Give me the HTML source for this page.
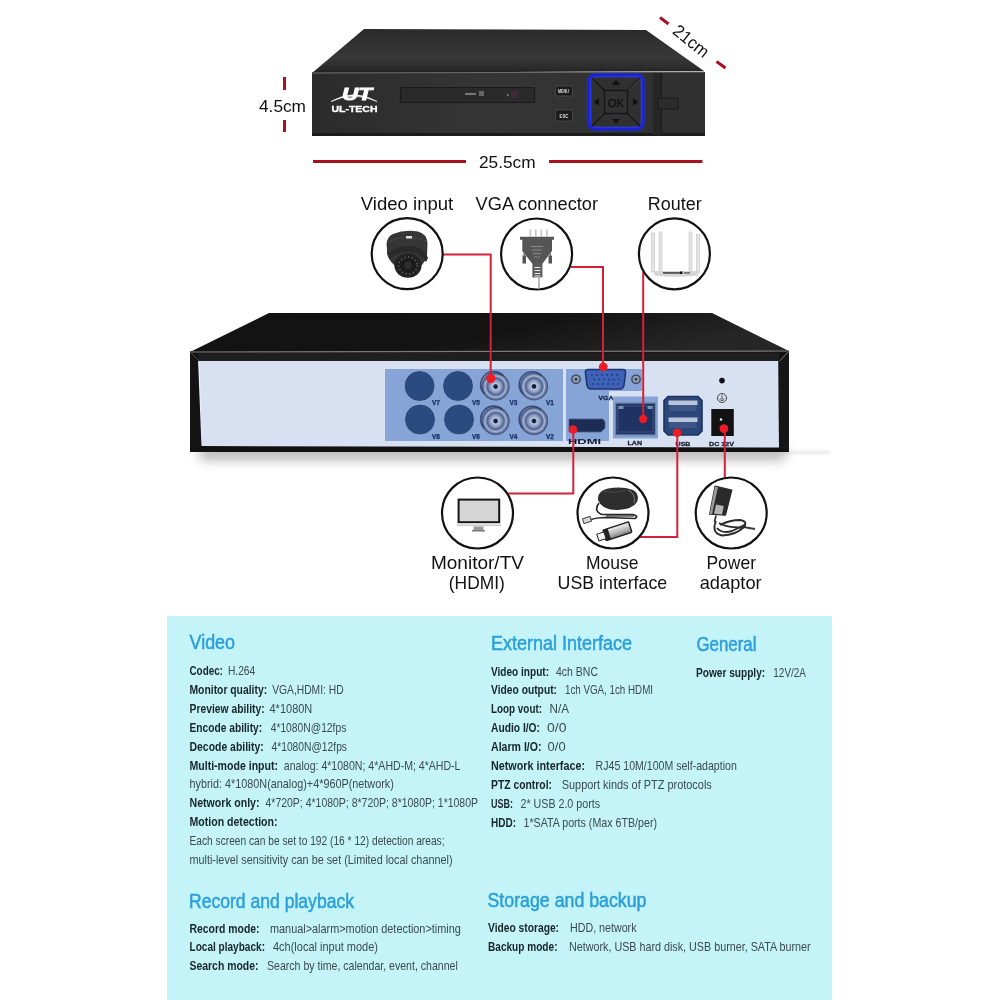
<!DOCTYPE html>
<html><head><meta charset="utf-8"><title>DVR</title>
<style>
html,body{margin:0;padding:0;background:#fff;}
body{width:1000px;height:1000px;overflow:hidden;}
svg{display:block;font-family:"Liberation Sans",sans-serif;will-change:transform;}
</style></head><body>
<svg width="1000" height="1000" viewBox="0 0 1000 1000">
<rect x="0" y="0" width="1000" height="1000" fill="#fff"/>
<rect x="167" y="616" width="665" height="384" fill="#c4f3f8"/>

<defs>
  <filter id="blur6" x="-20%" y="-200%" width="140%" height="500%"><feGaussianBlur stdDeviation="6"/></filter>
  <filter id="blur2" x="-50%" y="-200%" width="200%" height="500%"><feGaussianBlur stdDeviation="1.5"/></filter>
  <filter id="blur1" x="-50%" y="-50%" width="200%" height="200%"><feGaussianBlur stdDeviation="0.6"/></filter>
  <linearGradient id="ftop" x1="0" y1="0" x2="0" y2="1">
    <stop offset="0" stop-color="#2a2a2a"/><stop offset="0.65" stop-color="#383838"/><stop offset="0.88" stop-color="#2c2c2c"/><stop offset="1" stop-color="#1f1f1f"/>
  </linearGradient>
  <linearGradient id="ffront" x1="0" y1="0" x2="1" y2="0">
    <stop offset="0" stop-color="#2b2b2b"/><stop offset="0.45" stop-color="#353535"/><stop offset="1" stop-color="#2f2f2f"/>
  </linearGradient>
  <linearGradient id="btop" x1="0" y1="0" x2="1" y2="0.3">
    <stop offset="0" stop-color="#121212"/><stop offset="0.6" stop-color="#131313"/><stop offset="1" stop-color="#262626"/>
  </linearGradient>
  <linearGradient id="bshadow" x1="0" y1="0" x2="0" y2="1">
    <stop offset="0" stop-color="#9a9a9a"/><stop offset="0.35" stop-color="#d8d8d8"/><stop offset="1" stop-color="#ffffff"/>
  </linearGradient>
  <radialGradient id="bnc" cx="0.5" cy="0.5" r="0.5">
    <stop offset="0" stop-color="#17203a"/><stop offset="0.13" stop-color="#17203a"/>
    <stop offset="0.2" stop-color="#b9c6e0"/><stop offset="0.42" stop-color="#8a9cc0"/>
    <stop offset="0.6" stop-color="#4f6290"/><stop offset="0.75" stop-color="#a6b6d6"/><stop offset="0.9" stop-color="#5d6f98"/><stop offset="1" stop-color="#34456e"/>
  </radialGradient>
</defs>

<!-- ===== front DVR ===== -->
<polygon points="364,29 646,30 704,71 312,73" fill="url(#ftop)"/>
<rect x="312" y="72" width="393" height="63" fill="url(#ffront)"/>
<line x1="312" y1="73" x2="704" y2="72" stroke="#6d6d6d" stroke-width="1.2"/>
<rect x="312" y="133" width="393" height="3" fill="#1c1c1c"/>
<!-- logo -->
<text x="342" y="99.6" font-size="17" font-weight="bold" font-style="italic" fill="#fff" stroke="#fff" stroke-width="0.9" textLength="30" lengthAdjust="spacingAndGlyphs">UT</text>
<path d="M331,101.5 Q354,88 377,101.5 Q354,91 331,101.5 Z" fill="#fff" stroke="#fff" stroke-width="0.6"/>
<text x="331.5" y="112.3" font-size="8.6" font-weight="bold" fill="#fff" stroke="#fff" stroke-width="0.3" textLength="46" lengthAdjust="spacingAndGlyphs">UL-TECH</text>
<!-- display slot -->
<rect x="400.5" y="87.5" width="134" height="15" fill="#2a2a2a" stroke="#1a1a1a" stroke-width="1.2" rx="1"/>
<rect x="465" y="93" width="11" height="2" fill="#777"/>
<rect x="479" y="91" width="5" height="5" fill="#666"/>
<rect x="507" y="94" width="1.5" height="2" fill="#888"/>
<rect x="511" y="91" width="7" height="7" fill="#3d2a3a"/>
<!-- buttons -->
<rect x="555.5" y="86" width="17" height="10" fill="#1d1d1d" stroke="#4d4d4d" stroke-width="0.8"/>
<text x="558" y="93" font-size="4.5" font-weight="bold" fill="#ddd" textLength="11" lengthAdjust="spacingAndGlyphs">MENU</text>
<rect x="555.5" y="110" width="17" height="11" fill="#1d1d1d" stroke="#4d4d4d" stroke-width="0.8"/>
<text x="559.5" y="117.5" font-size="4.5" font-weight="bold" fill="#ddd" textLength="9" lengthAdjust="spacingAndGlyphs">ESC</text>
<!-- d-pad -->
<rect x="589.2" y="75.2" width="53.6" height="53.6" rx="6" fill="none" stroke="#2a4cff" stroke-width="3" opacity="0.6" filter="url(#blur2)"/>
<rect x="589.2" y="75.2" width="53.6" height="53.6" rx="6" fill="#303030" stroke="#1b24d4" stroke-width="3.6"/>
<rect x="590.8" y="76.8" width="50.4" height="50.4" rx="5" fill="none" stroke="#3346f0" stroke-width="0.8"/>
<line x1="592" y1="78" x2="640" y2="126" stroke="#161616" stroke-width="1.2"/>
<line x1="640" y1="78" x2="592" y2="126" stroke="#161616" stroke-width="1.2"/>
<line x1="627" y1="92" x2="640" y2="79" stroke="#5a5a5a" stroke-width="0.6"/>
<rect x="604.5" y="90.5" width="23" height="23" fill="#323232" stroke="#151515" stroke-width="1.4"/>
<text x="608" y="106.5" font-size="11" fill="#111" stroke="#111" stroke-width="0.4" textLength="16" lengthAdjust="spacingAndGlyphs">OK</text>
<polygon points="616,80 612,85 620,85" fill="#111"/>
<polygon points="616,124 612,119 620,119" fill="#111"/>
<polygon points="594,102 599,98 599,106" fill="#111"/>
<polygon points="638,102 633,98 633,106" fill="#111"/>
<rect x="653" y="73" width="9" height="62" fill="#262626"/><line x1="661.5" y1="73" x2="661.5" y2="135" stroke="#1a1a1a" stroke-width="1"/>
<rect x="658" y="98" width="20" height="11" rx="1.5" fill="#2c2c2c" stroke="#1a1a1a" stroke-width="1.2"/>

<!-- dims -->
<g stroke="#a8121f" stroke-width="3">
  <line x1="284.5" y1="77" x2="284.5" y2="90"/>
  <line x1="284.5" y1="120" x2="284.5" y2="132"/>
  <line x1="313" y1="161.5" x2="466" y2="161.5"/>
  <line x1="549" y1="161.5" x2="702.5" y2="161.5"/>
  <line x1="660" y1="17.5" x2="668.5" y2="24"/>
  <line x1="716.5" y1="61.5" x2="725.5" y2="68"/>
</g>
<text x="0" y="0" font-size="17.4" fill="#111" textLength="41" lengthAdjust="spacingAndGlyphs" transform="translate(671.6,32.8) rotate(39)">21cm</text>

<!-- ===== back DVR ===== -->
<rect x="200" y="446" width="585" height="14" fill="#777" opacity="0.55" filter="url(#blur6)"/>
<rect x="775" y="451" width="55" height="3" fill="#aaa" opacity="0.3" filter="url(#blur2)"/>
<polygon points="269,313 712,313 789,351 190,352" fill="url(#btop)"/>
<rect x="190" y="351" width="599" height="101" fill="#111"/>
<rect x="199" y="352.5" width="580" height="8.5" fill="#1f1f1f"/>
<line x1="190" y1="352" x2="789" y2="351" stroke="#7a7a7a" stroke-width="1.2"/>
<polygon points="198,361 778.5,361 779,447.5 201.5,446 199,444" fill="#d8e1f1"/>
<line x1="199" y1="362" x2="201.5" y2="445" stroke="#eef2fa" stroke-width="0.9"/>
<polygon points="190,352 198,361 201.5,446 190,452" fill="#131313"/>
<polygon points="789,351 778.5,361 779,447.5 789,452" fill="#161616"/>
<line x1="788" y1="352" x2="779.5" y2="361" stroke="#8a8a8a" stroke-width="0.9"/>
<line x1="191" y1="352.5" x2="199" y2="361" stroke="#5a5a5a" stroke-width="0.8"/>

<!-- video panel -->
<rect x="385" y="369" width="178" height="72" fill="#86a5d6"/>
<g fill="#2a4a80" stroke="#a3bbe2" stroke-width="0.8">
  <circle cx="419.6" cy="386" r="15.5"/>
  <circle cx="458" cy="386" r="15.5"/>
  <circle cx="420" cy="419.5" r="15.5"/>
  <circle cx="459" cy="419.5" r="15.5"/>
</g>
<g fill="url(#bnc)">
  <circle cx="495.6" cy="386.6" r="14"/>
  <circle cx="534" cy="386.4" r="14"/>
  <circle cx="495.6" cy="421" r="14"/>
  <circle cx="534" cy="421" r="14"/>
</g>
<g stroke="#27365c" stroke-width="1.6" fill="none" opacity="0.8">
  <path d="M484.5,394 A12.5,12.5 0 0 1 503,375.5"/>
  <path d="M523,394 A12.5,12.5 0 0 1 541.5,375.5"/>
  <path d="M484.5,428.5 A12.5,12.5 0 0 1 503,410"/>
  <path d="M523,428.5 A12.5,12.5 0 0 1 541.5,410"/>
</g>
<g font-size="6.5" font-weight="bold" fill="#1a2f66" stroke="#1a2f66" stroke-width="0.25">
  <text x="432" y="405">V7</text><text x="472" y="405">V5</text><text x="509.5" y="405">V3</text><text x="546" y="405">V1</text>
  <text x="432" y="439">V8</text><text x="472" y="439">V6</text><text x="509.5" y="439">V4</text><text x="546" y="439">V2</text>
</g>
<!-- vga/hdmi panel -->
<path d="M566,369 H642 V391 H609 V441 H566 Z" fill="#86a5d6"/>
<path d="M588,369.5 H623 Q626,369.5 625.5,373 L624,385 Q623.5,389 620,389 H591 Q587.5,389 587,385 L585.5,373 Q585,369.5 588,369.5 Z" fill="#3d62b8" stroke="#1f3470" stroke-width="1.6"/>
<g fill="#1f3a80">
<circle cx="592" cy="375" r="0.9"/><circle cx="597" cy="375" r="0.9"/><circle cx="602" cy="375" r="0.9"/><circle cx="607" cy="375" r="0.9"/><circle cx="612" cy="375" r="0.9"/><circle cx="617" cy="375" r="0.9"/>
<circle cx="594" cy="379.5" r="0.9"/><circle cx="599" cy="379.5" r="0.9"/><circle cx="604" cy="379.5" r="0.9"/><circle cx="609" cy="379.5" r="0.9"/><circle cx="614" cy="379.5" r="0.9"/><circle cx="619" cy="379.5" r="0.9"/>
<circle cx="593" cy="384" r="0.9"/><circle cx="598" cy="384" r="0.9"/><circle cx="603" cy="384" r="0.9"/><circle cx="608" cy="384" r="0.9"/><circle cx="613" cy="384" r="0.9"/><circle cx="618" cy="384" r="0.9"/>
</g>
<circle cx="576" cy="379.3" r="4.2" fill="#8e9bb0" stroke="#3b465c" stroke-width="1.4"/><circle cx="576" cy="379.3" r="1.3" fill="#2a3448"/>
<circle cx="636" cy="379.3" r="4.2" fill="#8e9bb0" stroke="#3b465c" stroke-width="1.4"/><circle cx="636" cy="379.3" r="1.3" fill="#2a3448"/>
<text x="598.5" y="399.5" font-size="6" font-weight="bold" fill="#1a2550" stroke="#1a2550" stroke-width="0.3" textLength="15" lengthAdjust="spacingAndGlyphs">VGA</text>
<path d="M569,419 H603 L605,422 V428 L601,432 H569 Z" fill="#1e2d55" stroke="#4d5f88" stroke-width="0.8"/>
<text x="568" y="444" font-size="7.5" font-weight="bold" fill="#111a33" textLength="33" lengthAdjust="spacingAndGlyphs">HDMI</text>
<!-- lan -->
<rect x="613" y="396.5" width="45" height="42" fill="#86a5d6"/>
<rect x="615.5" y="403" width="40" height="32" fill="#1e3363" stroke="#7486a8" stroke-width="1.4"/>
<rect x="618" y="406" width="35" height="26" fill="none" stroke="#3d5589" stroke-width="1"/>
<rect x="618.5" y="406" width="5" height="3" fill="#7a94a8"/>
<rect x="647.5" y="406" width="5" height="3" fill="#7a94a8"/>
<text x="627.5" y="445" font-size="6" font-weight="bold" fill="#1d2235" stroke="#1d2235" stroke-width="0.3" textLength="14.5" lengthAdjust="spacingAndGlyphs">LAN</text>
<!-- usb -->
<path d="M668,396.5 H698 L702,400.5 V431 L698,435 H668 L664,431 V400.5 Z" fill="#2d4679" stroke="#1d3163" stroke-width="1.6"/>
<rect x="668.5" y="400.5" width="29" height="4.5" fill="#b6c3da"/>
<rect x="669.5" y="405" width="27" height="6" fill="#3c5688"/>
<rect x="668.5" y="417.5" width="29" height="4.5" fill="#b6c3da"/>
<rect x="669.5" y="422" width="27" height="6" fill="#3c5688"/>
<text x="675.5" y="445.8" font-size="6" font-weight="bold" fill="#1d2235" stroke="#1d2235" stroke-width="0.3" textLength="15" lengthAdjust="spacingAndGlyphs">USB</text>
<!-- dc -->
<circle cx="722" cy="380.6" r="2.8" fill="#111"/>
<circle cx="722" cy="398" r="4.5" fill="none" stroke="#444" stroke-width="1"/>
<path d="M722,394.5 V399 M719.5,399 H724.5 M720.5,400.5 H723.5" stroke="#444" stroke-width="0.8"/>
<rect x="711.3" y="409" width="22.5" height="27" fill="#121212"/>
<circle cx="721" cy="419.5" r="1.3" fill="#bfffbf"/>
<text x="709" y="446" font-size="6" font-weight="bold" fill="#1d2235" stroke="#1d2235" stroke-width="0.3" textLength="25" lengthAdjust="spacingAndGlyphs">DC 12V</text>

<!-- ===== red connector lines ===== -->
<g stroke="#d3223a" stroke-width="2" fill="none">
  <polyline points="443,254.6 490.7,254.6 490.7,379"/>
  <polyline points="571,267 603,267 603,367"/>
  <polyline points="643.2,272 643.2,419"/>
  <polyline points="573.3,430 573.3,493.4 508,493.4"/>
  <polyline points="677.3,433 677.3,537 640,537"/>
  <polyline points="724.8,429 724.8,477"/>
</g>
<g fill="#ee1c25">
  <circle cx="490.8" cy="378.6" r="4.6"/>
  <circle cx="603.3" cy="366.8" r="4.4"/>
  <circle cx="643.2" cy="419" r="4.2"/>
  <circle cx="573" cy="429.5" r="4.3"/>
  <circle cx="677.1" cy="432.8" r="4.3"/>
  <circle cx="723.9" cy="428.7" r="4.4"/>
</g>

<!-- ===== callout circles ===== -->
<g fill="#fff" stroke="#111" stroke-width="2.2">
  <circle cx="407.2" cy="253.7" r="35.5"/>
  <circle cx="536.6" cy="254" r="35.5"/>
  <circle cx="674.4" cy="253.8" r="35.5"/>
  <circle cx="477.5" cy="513" r="35.5"/>
  <circle cx="613" cy="513" r="35.5"/>
  <circle cx="731.2" cy="513" r="35.5"/>
</g>


<!-- camera -->
<g>
  <path d="M387,248 Q385,238 393,234 Q405,229 418,231.5 Q427,234 427.5,243 L427,256 Q424,266 414,270 L400,270 Q389,262 387,254 Z" fill="#363636"/>
  <path d="M388,242 Q405,233 427,241" stroke="#4a4a4a" stroke-width="0.8" fill="none"/>
  <path d="M388,253 Q397,245 412,246 Q424,248 428,258 L426,262 Q420,252 408,252 Q396,252 390,260 Z" fill="#2a2a2a"/>
  <ellipse cx="408" cy="265.5" rx="13.6" ry="12.2" fill="#222"/>
  <ellipse cx="408" cy="265.5" rx="9.2" ry="8.2" fill="#1a1a1a" stroke="#6a6a6a" stroke-width="1.4" stroke-dasharray="1.3,2.4"/>
  <circle cx="408" cy="265.5" r="4" fill="#2c2c2c"/>
  <rect x="406" y="236" width="6" height="2.5" fill="#e0e0e0"/>
</g>
<!-- vga plug -->
<g>
  <g fill="#c4c4c4"><rect x="529.5" y="229.5" width="1.6" height="7"/><rect x="535" y="229.5" width="1.6" height="7"/><rect x="540.5" y="229.5" width="1.6" height="7"/><rect x="546" y="229.5" width="1.6" height="7"/></g>
  <path d="M520,236.7 H554 V239.8 H552 V251 L542.4,263.7 H532.4 L522.3,251 V239.8 H520 Z" fill="#555"/>
  <rect x="522.5" y="255.5" width="3.5" height="8" fill="#555"/>
  <rect x="548.5" y="255.5" width="3.5" height="8" fill="#555"/>
  <rect x="523.5" y="252" width="1.5" height="4" fill="#777"/>
  <rect x="549.5" y="252" width="1.5" height="4" fill="#777"/>
  <rect x="532.4" y="263" width="10" height="14.4" fill="#585858"/>
  <g stroke="#8a8a8a" stroke-width="1"><line x1="531" y1="246.5" x2="543" y2="246.5"/><line x1="532" y1="250" x2="542" y2="250"/><line x1="533" y1="253.5" x2="541" y2="253.5"/><line x1="534" y1="257" x2="540" y2="257"/></g>
  <g stroke="#e6e6e6" stroke-width="1.1"><line x1="534.5" y1="267.5" x2="540.5" y2="267.5"/><line x1="534.5" y1="270.5" x2="540.5" y2="270.5"/><line x1="534.5" y1="273.5" x2="540.5" y2="273.5"/><line x1="534.5" y1="276" x2="540.5" y2="276"/></g>
  <line x1="539" y1="277.5" x2="539" y2="289" stroke="#aaa" stroke-width="1.6"/>
</g>
<!-- router -->
<g>
  <g fill="#e4e4e4" stroke="#c4c4c4" stroke-width="0.6">
  <rect x="651.5" y="233" width="3" height="39"/>
  <rect x="659" y="232" width="3" height="40"/>
  <rect x="689" y="232" width="3" height="40"/>
  <rect x="696.5" y="234.5" width="3" height="38"/>
  </g>
  <path d="M653,271 H699 L698,275.5 Q676,278 655,275.5 Z" fill="#d6d6d6"/>
  <rect x="663" y="272" width="18" height="1.8" fill="#555"/>
  <rect x="680" y="271.5" width="2.5" height="2.5" fill="#111"/>
  <rect x="684" y="272" width="6" height="1.8" fill="#777"/>
</g>
<!-- monitor -->
<g>
  <rect x="458.6" y="499.6" width="40.6" height="22.6" fill="#d6d6d6" stroke="#151515" stroke-width="2"/>
  <rect x="457" y="524.5" width="44" height="1.6" fill="#c9c9c9"/>
  <rect x="473.5" y="526.5" width="10" height="4" fill="#9a9a9a"/>
  <rect x="472" y="530" width="13" height="1.5" fill="#777"/>
</g>
<!-- mouse + usb -->
<g>
  <linearGradient id="usbg" x1="0" y1="0" x2="0" y2="1"><stop offset="0" stop-color="#f0f0f0"/><stop offset="0.6" stop-color="#b5b5b5"/><stop offset="1" stop-color="#777"/></linearGradient>
  <path d="M598,500 Q597,491 608,488.5 Q622,486 633,490 Q640,494 637,502 Q633,509 618,510 Q602,510.5 598,500 Z" fill="#2e2e2e"/>
  <path d="M628,490 Q636,494 634,503" stroke="#8a8a8a" stroke-width="0.9" fill="none"/>
  <path d="M603,491 Q615,494 626,490" stroke="#555" stroke-width="0.7" fill="none"/>
  <path d="M599,503 Q593,511 602,514.5 L633,514.5 Q639,516 635,518.5 L606,517.5 Q596,517.5 590,520" stroke="#262626" stroke-width="1.7" fill="none"/>
  <path d="M606,516 L634,516" stroke="#262626" stroke-width="1.2"/>
  <rect x="583" y="517.5" width="8" height="5" fill="#d6d6d6" stroke="#3a3a3a" stroke-width="0.9" transform="rotate(-18 587 520)"/>
  <g transform="rotate(-18 615 532)">
    <rect x="604" y="526.5" width="27" height="11" rx="1" fill="url(#usbg)" stroke="#1a1a1a" stroke-width="1.4"/>
    <rect x="604" y="526.5" width="5" height="11" fill="#222"/>
    <rect x="597" y="528.5" width="7.5" height="7" fill="#f4f4f4" stroke="#2a2a2a" stroke-width="1"/>
  </g>
</g>
<!-- power adaptor -->
<g>
  <path d="M715,486 L731.8,490 L725.5,515.2 L709.7,514.1 Z" fill="#2a2a2a" stroke="#2a2a2a" stroke-width="1.2" stroke-linejoin="round"/>
  <path d="M715,486.5 L718,487.2 L712,514.2 L709.7,514 Z" fill="#9a9a9a"/>
  <path d="M716,504.5 L723.8,506 L722,514.6 L714,513.8 Z" fill="#b4b4b4"/>
  <path d="M716,515.5 L714.5,522" stroke="#2a2a2a" stroke-width="1.6"/>
  <g stroke="#2b2b2b" stroke-width="1.9" fill="none">
    <path d="M716,521 Q711,533 722,535.5 Q736,535 744,527 Q748,521 740,520 Q730,520 720,525"/>
    <path d="M717,528 Q722,534 732,531 Q741,527 746,524"/>
    <path d="M719,523 Q730,529 746,527"/>
  </g>
  <path d="M746,527.5 L755,529" stroke="#3a3a3a" stroke-width="2.2"/>
</g>

<text x="189.6" y="649" font-size="19.6" font-weight="normal" fill="#2b9fd9" textLength="45.4" lengthAdjust="spacingAndGlyphs" stroke="#2b9fd9" stroke-width="0.5">Video</text>
<text x="491" y="650" font-size="19.6" font-weight="normal" fill="#2b9fd9" textLength="141" lengthAdjust="spacingAndGlyphs" stroke="#2b9fd9" stroke-width="0.5">External Interface</text>
<text x="696.5" y="651" font-size="19.6" font-weight="normal" fill="#2b9fd9" textLength="60" lengthAdjust="spacingAndGlyphs" stroke="#2b9fd9" stroke-width="0.5">General</text>
<text x="189" y="908" font-size="19.6" font-weight="normal" fill="#2b9fd9" textLength="165" lengthAdjust="spacingAndGlyphs" stroke="#2b9fd9" stroke-width="0.5">Record and playback</text>
<text x="487.5" y="907" font-size="19.6" font-weight="normal" fill="#2b9fd9" textLength="159" lengthAdjust="spacingAndGlyphs" stroke="#2b9fd9" stroke-width="0.5">Storage and backup</text>
<text x="189.5" y="675.4" font-size="11.9" font-weight="bold" fill="#17262b" textLength="33.4" lengthAdjust="spacingAndGlyphs">Codec:</text>
<text x="228" y="675.4" font-size="11.9" font-weight="normal" fill="#3a4b50" textLength="27.2" lengthAdjust="spacingAndGlyphs">H.264</text>
<text x="189.5" y="694" font-size="11.9" font-weight="bold" fill="#17262b" textLength="77.6" lengthAdjust="spacingAndGlyphs">Monitor quality:</text>
<text x="272.2" y="694" font-size="11.9" font-weight="normal" fill="#3a4b50" textLength="71.4" lengthAdjust="spacingAndGlyphs">VGA,HDMI: HD</text>
<text x="189.5" y="713" font-size="11.9" font-weight="bold" fill="#17262b" textLength="75.2" lengthAdjust="spacingAndGlyphs">Preview ability:</text>
<text x="269.5" y="713" font-size="11.9" font-weight="normal" fill="#3a4b50" textLength="42.8" lengthAdjust="spacingAndGlyphs">4*1080N</text>
<text x="189.5" y="731.8" font-size="11.9" font-weight="bold" fill="#17262b" textLength="72.7" lengthAdjust="spacingAndGlyphs">Encode ability:</text>
<text x="270.7" y="731.8" font-size="11.9" font-weight="normal" fill="#3a4b50" textLength="75.6" lengthAdjust="spacingAndGlyphs">4*1080N@12fps</text>
<text x="189.5" y="750.7" font-size="11.9" font-weight="bold" fill="#17262b" textLength="74.2" lengthAdjust="spacingAndGlyphs">Decode ability:</text>
<text x="271.5" y="750.7" font-size="11.9" font-weight="normal" fill="#3a4b50" textLength="75.5" lengthAdjust="spacingAndGlyphs">4*1080N@12fps</text>
<text x="189.5" y="769.6" font-size="11.9" font-weight="bold" fill="#17262b" textLength="88.5" lengthAdjust="spacingAndGlyphs">Multi-mode input:</text>
<text x="283.8" y="769.6" font-size="11.9" font-weight="normal" fill="#3a4b50" textLength="176.7" lengthAdjust="spacingAndGlyphs">analog: 4*1080N; 4*AHD-M; 4*AHD-L</text>
<text x="189.5" y="788.2" font-size="11.9" font-weight="normal" fill="#3a4b50" textLength="204.3" lengthAdjust="spacingAndGlyphs">hybrid: 4*1080N(analog)+4*960P(network)</text>
<text x="189.5" y="807.3" font-size="11.9" font-weight="bold" fill="#17262b" textLength="70.0" lengthAdjust="spacingAndGlyphs">Network only:</text>
<text x="265.5" y="807.3" font-size="11.9" font-weight="normal" fill="#3a4b50" textLength="212.5" lengthAdjust="spacingAndGlyphs">4*720P; 4*1080P;  8*720P;  8*1080P; 1*1080P</text>
<text x="189.5" y="826.4" font-size="11.9" font-weight="bold" fill="#17262b" textLength="88" lengthAdjust="spacingAndGlyphs">Motion detection:</text>
<text x="189.5" y="845" font-size="11.9" font-weight="normal" fill="#3a4b50" textLength="255" lengthAdjust="spacingAndGlyphs">Each screen can be set to 192 (16 * 12) detection areas;</text>
<text x="189.5" y="863.8" font-size="11.9" font-weight="normal" fill="#3a4b50" textLength="263" lengthAdjust="spacingAndGlyphs">multi-level sensitivity can be set (Limited local channel)</text>
<text x="491" y="675.6" font-size="11.9" font-weight="bold" fill="#17262b" textLength="58" lengthAdjust="spacingAndGlyphs">Video input:</text>
<text x="556" y="675.6" font-size="11.9" font-weight="normal" fill="#3a4b50" textLength="42" lengthAdjust="spacingAndGlyphs">4ch BNC</text>
<text x="491" y="694.4" font-size="11.9" font-weight="bold" fill="#17262b" textLength="66" lengthAdjust="spacingAndGlyphs">Video output:</text>
<text x="565" y="694.4" font-size="11.9" font-weight="normal" fill="#3a4b50" textLength="88" lengthAdjust="spacingAndGlyphs">1ch VGA, 1ch HDMI</text>
<text x="491" y="713.2" font-size="11.9" font-weight="bold" fill="#17262b" textLength="51" lengthAdjust="spacingAndGlyphs">Loop vout:</text>
<text x="549.6" y="713.2" font-size="11.9" font-weight="normal" fill="#3a4b50" textLength="19.4" lengthAdjust="spacingAndGlyphs">N/A</text>
<text x="491" y="732" font-size="11.9" font-weight="bold" fill="#17262b" textLength="49" lengthAdjust="spacingAndGlyphs">Audio I/O:</text>
<text x="547" y="732" font-size="11.9" font-weight="normal" fill="#3a4b50" textLength="19.4" lengthAdjust="spacingAndGlyphs">0/0</text>
<text x="491" y="751" font-size="11.9" font-weight="bold" fill="#17262b" textLength="50.5" lengthAdjust="spacingAndGlyphs">Alarm I/O:</text>
<text x="547.6" y="751" font-size="11.9" font-weight="normal" fill="#3a4b50" textLength="18.0" lengthAdjust="spacingAndGlyphs">0/0</text>
<text x="491" y="769.8" font-size="11.9" font-weight="bold" fill="#17262b" textLength="94" lengthAdjust="spacingAndGlyphs">Network interface:</text>
<text x="595.6" y="769.8" font-size="11.9" font-weight="normal" fill="#3a4b50" textLength="141.2" lengthAdjust="spacingAndGlyphs">RJ45 10M/100M self-adaption</text>
<text x="491" y="788.8" font-size="11.9" font-weight="bold" fill="#17262b" textLength="61" lengthAdjust="spacingAndGlyphs">PTZ control:</text>
<text x="561.7" y="788.8" font-size="11.9" font-weight="normal" fill="#3a4b50" textLength="150.1" lengthAdjust="spacingAndGlyphs">Support kinds of PTZ protocols</text>
<text x="491" y="807.6" font-size="11.9" font-weight="bold" fill="#17262b" textLength="22" lengthAdjust="spacingAndGlyphs">USB:</text>
<text x="520.5" y="807.6" font-size="11.9" font-weight="normal" fill="#3a4b50" textLength="79.5" lengthAdjust="spacingAndGlyphs">2* USB 2.0 ports</text>
<text x="491" y="826.6" font-size="11.9" font-weight="bold" fill="#17262b" textLength="25" lengthAdjust="spacingAndGlyphs">HDD:</text>
<text x="523.5" y="826.6" font-size="11.9" font-weight="normal" fill="#3a4b50" textLength="133.5" lengthAdjust="spacingAndGlyphs">1*SATA ports (Max 6TB/per)</text>
<text x="696" y="676.7" font-size="11.9" font-weight="bold" fill="#17262b" textLength="69.2" lengthAdjust="spacingAndGlyphs">Power supply:</text>
<text x="773.3" y="676.7" font-size="11.9" font-weight="normal" fill="#3a4b50" textLength="32.7" lengthAdjust="spacingAndGlyphs">12V/2A</text>
<text x="189.5" y="932.5" font-size="11.9" font-weight="bold" fill="#17262b" textLength="70.1" lengthAdjust="spacingAndGlyphs">Record mode:</text>
<text x="270" y="932.5" font-size="11.9" font-weight="normal" fill="#3a4b50" textLength="190.8" lengthAdjust="spacingAndGlyphs">manual&gt;alarm&gt;motion detection&gt;timing</text>
<text x="189.5" y="951.3" font-size="11.9" font-weight="bold" fill="#17262b" textLength="75.5" lengthAdjust="spacingAndGlyphs">Local playback:</text>
<text x="273" y="951.3" font-size="11.9" font-weight="normal" fill="#3a4b50" textLength="105" lengthAdjust="spacingAndGlyphs">4ch(local input mode)</text>
<text x="189.5" y="970.2" font-size="11.9" font-weight="bold" fill="#17262b" textLength="69.0" lengthAdjust="spacingAndGlyphs">Search mode:</text>
<text x="267" y="970.2" font-size="11.9" font-weight="normal" fill="#3a4b50" textLength="190.8" lengthAdjust="spacingAndGlyphs">Search by time, calendar, event, channel</text>
<text x="488" y="932" font-size="11.9" font-weight="bold" fill="#17262b" textLength="71" lengthAdjust="spacingAndGlyphs">Video storage:</text>
<text x="570" y="932" font-size="11.9" font-weight="normal" fill="#3a4b50" textLength="66.5" lengthAdjust="spacingAndGlyphs">HDD, network</text>
<text x="488" y="951.2" font-size="11.9" font-weight="bold" fill="#17262b" textLength="69.5" lengthAdjust="spacingAndGlyphs">Backup mode:</text>
<text x="569" y="951.2" font-size="11.9" font-weight="normal" fill="#3a4b50" textLength="241.6" lengthAdjust="spacingAndGlyphs">Network, USB hard disk, USB burner, SATA burner</text>
<text x="360.8" y="210" font-size="18.8" font-weight="normal" fill="#111" textLength="92.4" lengthAdjust="spacingAndGlyphs">Video input</text>
<text x="475.6" y="210" font-size="18.8" font-weight="normal" fill="#111" textLength="122.4" lengthAdjust="spacingAndGlyphs">VGA connector</text>
<text x="647.8" y="210" font-size="18.8" font-weight="normal" fill="#111" textLength="53.9" lengthAdjust="spacingAndGlyphs">Router</text>
<text x="430.9" y="569" font-size="18.2" font-weight="normal" fill="#111" textLength="93.1" lengthAdjust="spacingAndGlyphs">Monitor/TV</text>
<text x="448.8" y="588.6" font-size="18.2" font-weight="normal" fill="#111" textLength="56" lengthAdjust="spacingAndGlyphs">(HDMI)</text>
<text x="586" y="569" font-size="18.2" font-weight="normal" fill="#111" textLength="52.4" lengthAdjust="spacingAndGlyphs">Mouse</text>
<text x="557.6" y="588.6" font-size="18.2" font-weight="normal" fill="#111" textLength="109.6" lengthAdjust="spacingAndGlyphs">USB interface</text>
<text x="706.4" y="569" font-size="18.2" font-weight="normal" fill="#111" textLength="49.6" lengthAdjust="spacingAndGlyphs">Power</text>
<text x="699.7" y="588.6" font-size="18.2" font-weight="normal" fill="#111" textLength="62" lengthAdjust="spacingAndGlyphs">adaptor</text>
<text x="259" y="111.6" font-size="17.4" font-weight="normal" fill="#111" textLength="47" lengthAdjust="spacingAndGlyphs">4.5cm</text>
<text x="479" y="168" font-size="17.4" font-weight="normal" fill="#111" textLength="56.6" lengthAdjust="spacingAndGlyphs">25.5cm</text>
</svg>
</body></html>
